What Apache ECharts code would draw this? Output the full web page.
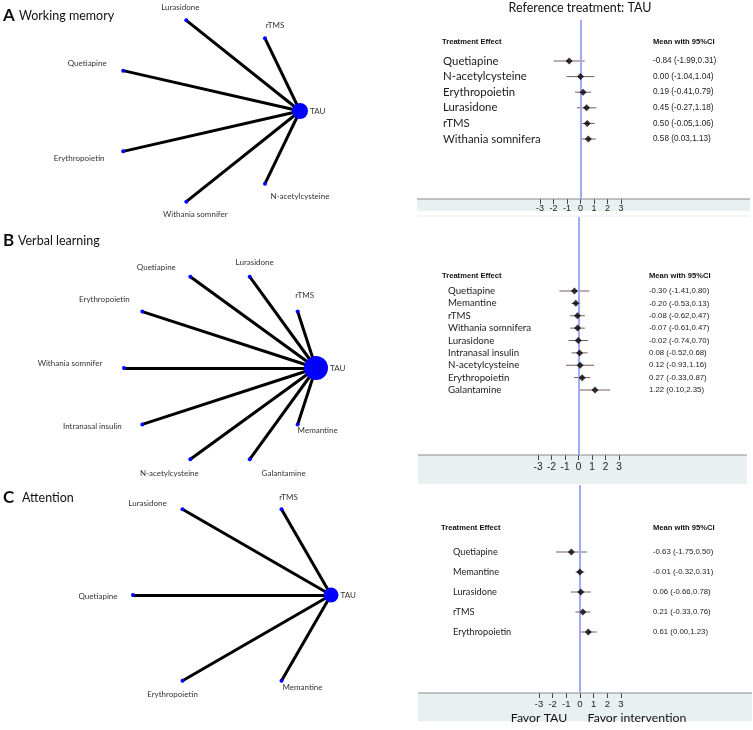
<!DOCTYPE html>
<html><head><meta charset="utf-8">
<script src="https://cdn.jsdelivr.net/npm/echarts@6/dist/echarts.min.js"></script>
<style>html,body{margin:0;padding:0;background:#fff}#c{width:753px;height:730px}</style>
</head><body><div id="c"></div>
<script>
// ---------- DATA ----------
// Network nodes, listed clockwise starting from the reference (TAU)
const netA = ['TAU','N-acetylcysteine','Withania somnifer','Erythropoietin','Quetiapine','Lurasidone','rTMS'];
const netB = ['TAU','Memantine','Galantamine','N-acetylcysteine','Intranasal insulin','Withania somnifer','Erythropoietin','Quetiapine','Lurasidone','rTMS'];
const netC = ['TAU','Memantine','Erythropoietin','Quetiapine','Lurasidone','rTMS'];

// Forest plot rows
const trtA  = ['Quetiapine','N-acetylcysteine','Erythropoietin','Lurasidone','rTMS','Withania somnifera'];
const meanA = [-0.84, 0.00, 0.19, 0.45, 0.50, 0.58];
const lowA  = [-1.99,-1.04,-0.41,-0.27,-0.05, 0.03];
const highA = [ 0.31, 1.04, 0.79, 1.18, 1.06, 1.13];

const trtB  = ['Quetiapine','Memantine','rTMS','Withania somnifera','Lurasidone','Intranasal insulin','N-acetylcysteine','Erythropoietin','Galantamine'];
const meanB = [-0.30,-0.20,-0.08,-0.07,-0.02, 0.08, 0.12, 0.27, 1.22];
const lowB  = [-1.41,-0.53,-0.62,-0.61,-0.74,-0.52,-0.93,-0.33, 0.10];
const highB = [ 0.80, 0.13, 0.47, 0.47, 0.70, 0.68, 1.16, 0.87, 2.35];

const trtC  = ['Quetiapine','Memantine','Lurasidone','rTMS','Erythropoietin'];
const meanC = [-0.63,-0.01, 0.06, 0.21, 0.61];
const lowC  = [-1.75,-0.32,-0.66,-0.33, 0.00];
const highC = [ 0.50, 0.31, 0.78, 0.76, 1.23];

const panelLetters = ['A','B','C'];
const panelTitles = ['Working memory','Verbal learning','Attention'];
const axisMin = -3, axisMax = 3, axisStep = 1;

// ---------- LAYOUT / STYLE (not data) ----------
const FONT = 'Lato, "Liberation Sans", sans-serif';
const ARIAL = '"Liberation Sans", Arial, sans-serif';
const panels = [
  { nodes: netA, trt: trtA, mean: meanA, low: lowA, high: highA,
    net: {left:114, top:18, size:186}, tau:16,
    offs: {'N-acetylcysteine':[35,13],'Withania somnifer':[9,13],'Erythropoietin':[-44,7],'Quetiapine':[-36,-7],'Lurasidone':[-6,-13],'rTMS':[10,-13]},
    fx: {left:540, width:81}, rowTop:53.2, rowH:93.6, lineTop:20, axisY:199, nameFont:11.4, valFont:8.2,
    lblMargin:5, tickFont:9, hdrY:42, hdrL:442, hdrR:653, nameX:443, valX:653,
    band:{x:417, w:333, h:12}, title:{y:16, x2:19} },
  { nodes: netB, trt: trtB, mean: meanB, low: lowB, high: highB,
    net: {left:124, top:272, size:192}, tau:24,
    offs: {'Memantine':[20,6],'Galantamine':[34,14],'N-acetylcysteine':[-21,14],'Intranasal insulin':[-50,2],'Withania somnifer':[-54,-5],'Erythropoietin':[-38,-12],'Quetiapine':[-34,-9],'Lurasidone':[5,-14],'rTMS':[7,-16]},
    fx: {left:538, width:81}, rowTop:284.8, rowH:111.4, lineTop:217, axisY:455, nameFont:9.7, valFont:7.8,
    lblMargin:7, tickFont:10, hdrY:276, hdrL:442, hdrR:649, nameX:448, valX:649,
    band:{x:418, w:329, h:29}, title:{y:241, x2:18} },
  { nodes: netC, trt: trtC, mean: meanC, low: lowC, high: highC,
    net: {left:133, top:496, size:198}, tau:15,
    offs: {'Memantine':[21,7],'Erythropoietin':[-10,14],'Quetiapine':[-35,1],'Lurasidone':[-35,-6],'rTMS':[7,-12]},
    fx: {left:539, width:82}, rowTop:542, rowH:100, lineTop:485, axisY:693, nameFont:9.2, valFont:7.8,
    lblMargin:6, tickFont:9.5, hdrY:528, hdrL:441, hdrR:653, nameX:453, valX:653,
    band:{x:418, w:334, h:28}, title:{y:498, x2:22} }
];

const fmt = v => v.toFixed(2);
const grid = [], xAxis = [], yAxis = [], series = [], graphic = [];

panels.forEach((p, k) => {
  // --- network grid ---
  const gN = grid.length;
  grid.push({left:p.net.left, top:p.net.top, width:p.net.size, height:p.net.size, containLabel:false});
  xAxis.push({gridIndex:gN, type:'value', min:-1, max:1, show:false});
  yAxis.push({gridIndex:gN, type:'value', min:-1, max:1, inverse:true, show:false});
  const n = p.nodes.length;
  series.push({
    type:'graph', layout:'none', coordinateSystem:'cartesian2d', xAxisIndex:xAxis.length-1, yAxisIndex:yAxis.length-1,
    silent:true, z:3,
    data: p.nodes.map((name, i) => {
      const a = i * 2 * Math.PI / n;
      const isRef = i === 0;
      const o = p.offs[name] || [0,0];
      return {
        name, value:[Math.cos(a), Math.sin(a)],
        symbolSize: isRef ? p.tau : 4,
        itemStyle:{color:'#0000ff'},
        label: isRef
          ? {show:true, position:'right', distance:2, fontSize:8, color:'#333', fontFamily:FONT}
          : {show:true, position:'inside', offset:o, align:'center', verticalAlign:'middle', fontSize:8, color:'#333', fontFamily:FONT}
      };
    }),
    links: p.nodes.slice(1).map(t => ({source:'TAU', target:t})),
    lineStyle:{color:'#000', width:3, opacity:1, curveness:0},
    emphasis:{disabled:true}
  });

  // --- big grid: zero line + tick axis ---
  const gB = grid.length;
  grid.push({left:p.fx.left, width:p.fx.width, top:p.lineTop, height:p.axisY - p.lineTop});
  xAxis.push({gridIndex:gB, type:'value', min:axisMin, max:axisMax, interval:axisStep,
    axisLine:{show:false}, splitLine:{show:false},
    axisTick:{show:true, length:5, lineStyle:{color:'#444', width:1}},
    axisLabel:{show:true, fontSize:p.tickFont, color:'#222', margin:p.lblMargin, fontFamily:ARIAL}});
  yAxis.push({gridIndex:gB, type:'value', min:0, max:1, show:false});
  series.push({type:'line', xAxisIndex:xAxis.length-1, yAxisIndex:yAxis.length-1, data:[], z:6,
    markLine:{silent:true, symbol:['none','none'], label:{show:false},
      lineStyle:{color:'#a4a9f4', width:2, type:'solid'}, data:[{xAxis:0}]}});

  // --- rows grid ---
  const gR = grid.length;
  grid.push({left:p.fx.left, width:p.fx.width, top:p.rowTop, height:p.rowH});
  xAxis.push({gridIndex:gR, type:'value', min:axisMin, max:axisMax, show:false});
  const xi = xAxis.length-1;
  yAxis.push({gridIndex:gR, type:'category', inverse:true, data:p.trt,
    axisLine:{show:false}, axisTick:{show:false}, splitLine:{show:false},
    axisLabel:{interval:0, align:'left', margin:p.fx.left - p.nameX, fontSize:p.nameFont, color:'#1a1a1a', fontFamily:FONT}});
  const yi = yAxis.length-1;
  yAxis.push({gridIndex:gR, type:'category', inverse:true, position:'right',
    data:p.trt.map((t,i)=>fmt(p.mean[i])+' ('+fmt(p.low[i])+','+fmt(p.high[i])+')'),
    axisLine:{show:false}, axisTick:{show:false}, splitLine:{show:false},
    axisLabel:{interval:0, align:'left', margin:p.valX - (p.fx.left + p.fx.width), fontSize:p.valFont, color:'#222', fontFamily:ARIAL}});
  series.push({type:'custom', xAxisIndex:xi, yAxisIndex:yi, z:3, silent:true,
    data:p.trt.map((t,i)=>[p.low[i], p.high[i], i]),
    encode:{x:[0,1], y:2},
    renderItem:(params, api) => {
      const a = api.coord([api.value(0), api.value(2)]);
      const b = api.coord([api.value(1), api.value(2)]);
      return {type:'line', shape:{x1:a[0], y1:a[1], x2:b[0], y2:b[1]}, style:{stroke:'#7a5a5c', lineWidth:1}};
    }});
  series.push({type:'scatter', xAxisIndex:xi, yAxisIndex:yi, z:7, silent:true,
    symbol:'diamond', symbolSize:7, itemStyle:{color:'#000'},
    data:p.mean.map((m,i)=>[m, i])});

  // --- decorations ---
  graphic.push({type:'rect', z:-1, shape:{x:p.band.x, y:p.axisY, width:p.band.w, height:p.band.h}, style:{fill:'#e9f0f2'}});
  graphic.push({type:'line', z:1, shape:{x1:p.band.x, y1:p.axisY, x2:p.band.x+p.band.w, y2:p.axisY}, style:{stroke:'#8a8a8a', lineWidth:1}});
  graphic.push({type:'text', x:p.hdrL, y:p.hdrY, style:{text:'Treatment Effect', font:'bold 7.6px '+ARIAL, fill:'#111', verticalAlign:'middle'}});
  graphic.push({type:'text', x:p.hdrR, y:p.hdrY, style:{text:'Mean with 95%CI', font:'bold 7.6px '+ARIAL, fill:'#111', verticalAlign:'middle'}});
  graphic.push({type:'text', x:3, y:p.title.y, style:{text:panelLetters[k], font:'bold 17px '+FONT, fill:'#111', verticalAlign:'middle'}});
  graphic.push({type:'text', x:p.title.x2, y:p.title.y, style:{text:panelTitles[k], font:'12.5px '+FONT, fill:'#111', verticalAlign:'middle'}});
});
graphic.push({type:'line', shape:{x1:417, y1:216, x2:750, y2:216}, style:{stroke:'#e4f0f2', lineWidth:1}});
graphic.push({type:'text', x:580, y:8, style:{text:'Reference treatment: TAU', font:'12.5px '+FONT, fill:'#111', align:'center', verticalAlign:'middle'}});
graphic.push({type:'text', x:539, y:718, z:10, style:{text:'Favor TAU', font:'12.3px '+FONT, fill:'#111', align:'center', verticalAlign:'middle'}});
graphic.push({type:'text', x:637, y:718, z:10, style:{text:'Favor intervention', font:'12.3px '+FONT, fill:'#111', align:'center', verticalAlign:'middle'}});

const chart = echarts.init(document.getElementById('c'), null, {renderer:'canvas'});
chart.setOption({animation:false, backgroundColor:'#fff', grid, xAxis, yAxis, series, graphic});
</script></body></html>
